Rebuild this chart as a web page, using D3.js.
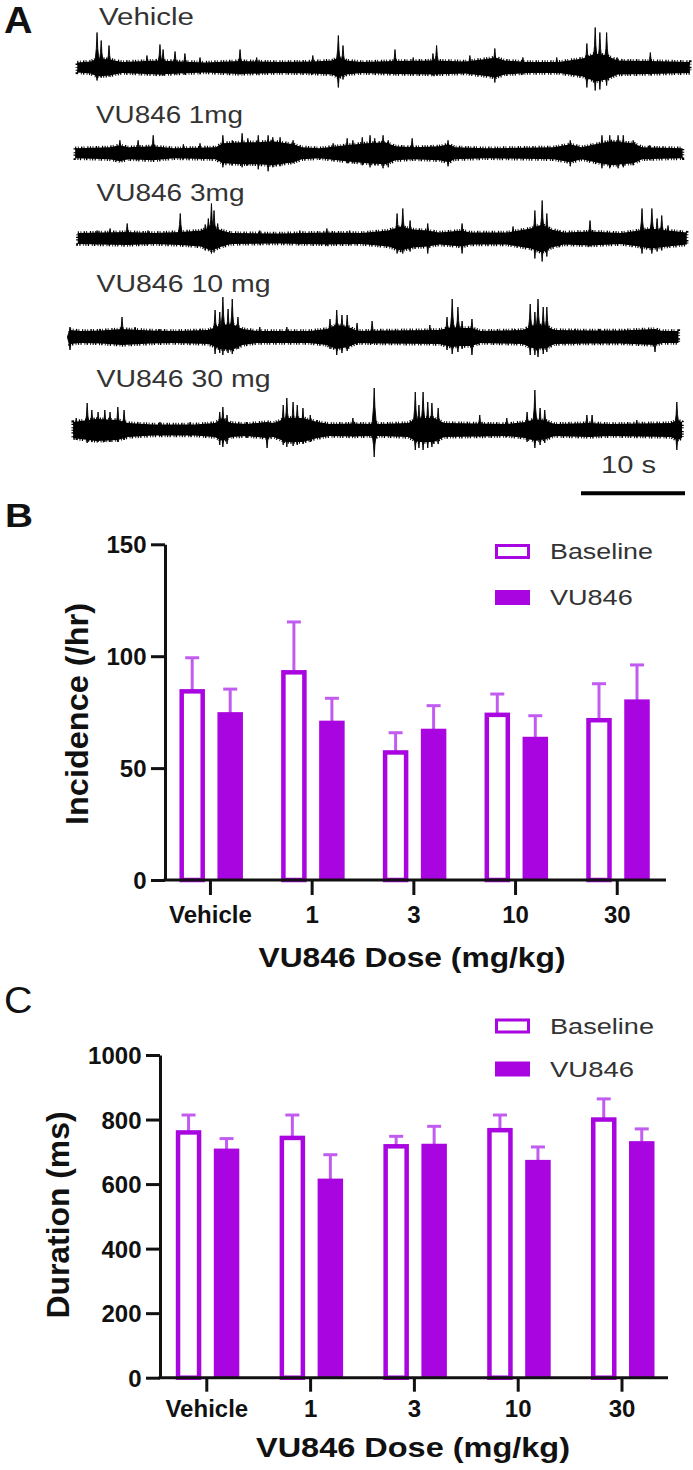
<!DOCTYPE html>
<html><head><meta charset="utf-8">
<script src="https://cdn.jsdelivr.net/npm/d3@7"></script>
<style>body{margin:0;background:#fff}svg{display:block}</style>
</head><body>
<svg id="c" width="693" height="1470"></svg>
<script>
// ---------------- DATA ----------------
const doses = ["Vehicle", "1", "3", "10", "30"];
const seriesNames = ["Baseline", "VU846"];

const incBaseline    = [85.3, 93.8, 58.0, 74.8, 72.4];
const incBaselineSem = [14.0, 21.5, 7.8, 8.3, 15.3];
const incVU          = [75.0, 71.2, 67.6, 64.0, 80.7];
const incVUSem       = [10.3, 10.0, 10.3, 9.4, 15.4];
const incTicks = [0, 50, 100, 150];

const durBaseline    = [767, 750, 724, 774, 807];
const durBaselineSem = [47, 64, 24, 40, 57];
const durVU          = [710, 617, 725, 675, 733];
const durVUSem       = [31, 74, 54, 40, 38];
const durTicks = [0, 200, 400, 600, 800, 1000];

const traceLabels = ["Vehicle", "VU846 1mg", "VU846 3mg", "VU846 10 mg", "VU846 30 mg"];
const scaleBarSeconds = 10;
const scaleBarLabel = "10 s";

// band envelope: [time (s), half-width]
const bandVehicle = [[0.7,5],[2,6],[2.6,9],[3.8,8],[5,5.5],[8.5,7],[10.5,6],[13,5],[16.3,6.5],[20,5.5],[23.3,6],[25.2,7],[25.8,10],[26.6,7],[28,5.5],[31.2,6.5],[35,7],[38,6],[40,8.5],[40.9,10],[41.8,7],[44,5.5],[47,5.5],[49.3,9],[50.5,14],[51.6,12],[52.6,7],[55.8,6.5],[59.6,5.5]];
const band1mg = [[0.5,5],[3.8,6],[4.8,8],[5.6,6],[8,7],[10,5],[14,6],[14.7,10],[16.5,11],[18.1,11],[19.5,12],[21.5,9],[22.3,6],[24,5],[26.5,8],[28.5,10],[30.3,11],[31.3,7],[33,6],[35.5,7],[36.4,9],[37,6],[40,5],[46.5,6],[48.1,9],[49.2,6],[50.5,9],[52,12],[54.2,10],[55,6],[58.9,5]];
const band3mg = [[0.75,5.5],[3,6],[5.5,6.5],[8,5.5],[10.6,6.5],[12.6,8],[13.6,12],[14.6,8],[15.5,5.5],[20,5],[24.7,6],[28,5.5],[30.6,8],[31.8,12],[33,9],[34.4,8],[35.5,6],[37.7,8],[38.5,6],[42,6],[44.3,10],[45.4,14],[46.3,9],[47.5,6],[50,7],[53,5.5],[54.7,8],[55.8,10],[57.5,8],[59.3,6]];
const band10mg = [[0,7],[1,6],[3,6.5],[5,8],[7.7,6.5],[10,6],[13.3,7],[14.5,12],[15.6,13],[16.6,8],[18,6],[23,6],[24.7,8],[25.6,12],[26.8,10],[27.6,6],[30,6.5],[35.5,7],[36.7,10],[37.6,9],[38.6,9],[39.5,6],[43.5,7],[44.7,12],[45.8,11],[46.6,7],[50,6.5],[53,6.5],[56.2,8],[57,6],[58.5,6]];
const band30mg = [[0.3,8],[1,9],[2.5,11],[4.6,10],[5.6,7],[8,5.5],[12,5.5],[13.9,7],[14.7,11],[15.5,7],[17,6],[18.9,8],[19.6,7],[20.8,12],[22.4,12],[23.8,8],[25,6],[27.2,6.5],[29,6],[29.25,9],[29.6,6],[32.5,7],[33.5,12],[35,12],[36,7],[39.4,6.5],[42,6],[43.8,8],[44.7,11],[45.8,9],[46.6,6],[49.9,7],[52,6],[54.5,6.5],[57.8,7],[58.4,10],[58.85,8]];

// spikes: [time (s), up amplitude, down amplitude]
const spikesVehicle = [[2.6,35,13],[3.0,27,10],[3.75,22,9],[7.4,12,7],[8.65,23,8],[8.95,18,8],[10.1,16,7],[11.05,14,7],[12.5,10,6],[16.35,18,7],[17.95,10,7],[23.35,12,7],[25.8,32,20],[26.25,22,12],[31.25,18,7],[33.0,10,7],[34.9,14,8],[35.25,22,8],[38.45,12,7],[40.85,19,15],[43.55,10,7],[46.8,10,6],[49.7,24,20],[50.5,40,23],[50.95,35,22],[51.6,35,18],[52.6,10,7],[55.8,15,7]];
const spikes1mg = [[4.8,13,8],[6.55,13,7],[8.0,18,7],[10.9,9,6],[12.5,10,6],[14.7,18,14],[15.6,13,12],[16.55,20,14],[17.1,15,12],[18.1,18,16],[19.05,18,18],[19.5,16,14],[20.2,16,13],[21.45,13,10],[24.05,5,6],[25.3,10,7],[26.65,15,10],[27.2,13,10],[28.1,16,12],[28.85,18,14],[29.3,15,12],[30.1,18,15],[30.6,13,14],[32.9,15,7],[36.35,13,13],[48.1,13,13],[51.15,18,15],[51.9,18,15],[52.7,18,15],[53.2,18,14],[54.15,13,12],[55.75,8,7]];
const spikes3mg = [[2.6,8,6],[3.85,10,6],[5.5,15,6],[7.5,8,6],[10.6,25,7],[13.0,14,12],[13.3,20,12],[13.6,35,15],[13.85,28,14],[14.2,15,10],[18.25,8,6],[22.1,8,6],[24.7,10,7],[26.9,8,6],[31.45,25,15],[32.0,30,15],[32.7,18,13],[34.4,15,15],[37.7,15,15],[42.6,12,7],[44.7,28,20],[45.4,38,23],[45.85,25,18],[47.1,8,8],[50.0,18,8],[55.0,30,15],[55.95,30,15],[56.45,20,13],[56.9,23,12],[57.5,13,8]];
const spikes10mg = [[0.0,10,13],[2.9,8,6],[5.0,20,8],[6.25,10,7],[8.65,8,6],[12.5,8,6],[13.95,27,17],[14.4,25,16],[14.7,40,18],[15.2,28,16],[15.6,38,17],[16.15,20,12],[18.25,10,6],[20.85,10,6],[25.0,18,12],[25.65,27,18],[26.15,22,16],[26.65,22,14],[27.6,14,8],[29.05,16,7],[34.6,12,7],[36.25,20,13],[36.75,38,17],[37.3,30,15],[37.7,16,12],[38.65,18,18],[42.8,8,7],[44.25,33,18],[44.7,25,18],[45.0,38,20],[45.5,30,17],[45.85,30,15],[48.55,8,7],[50.95,8,7],[53.35,8,7],[56.25,8,15]];
const spikes30mg = [[0.6,12,10],[1.65,27,13],[2.1,20,12],[2.7,18,12],[3.35,20,12],[3.85,18,12],[4.6,23,12],[5.2,20,10],[8.65,8,6],[11.55,8,6],[14.4,18,15],[14.7,23,17],[15.1,15,14],[17.0,8,8],[17.6,7,6],[18.95,6,18],[20.5,25,15],[20.85,32,17],[21.45,28,16],[21.85,25,15],[22.4,22,14],[23.1,15,12],[23.75,10,8],[27.2,12,7],[29.25,42,27],[33.2,38,20],[33.55,25,18],[33.95,38,20],[34.4,28,18],[34.8,27,17],[35.4,22,14],[39.4,15,7],[42.0,12,7],[43.95,18,12],[44.7,40,18],[45.2,22,15],[45.65,20,13],[49.7,15,7],[50.2,15,7],[54.5,10,7],[58.35,28,20]];

const traceBands = [bandVehicle, band1mg, band3mg, band10mg, band30mg];
const traceSpikes = [spikesVehicle, spikes1mg, spikes3mg, spikes10mg, spikes30mg];

// ---------------- DRAWING ----------------
const svg = d3.select("#c");
const FONT = "'Liberation Sans', Arial, Helvetica, sans-serif";
const PURPLE = "#a905e0";
const ERRC = "#c25cf0";
const AXC = "#111";
const TXT = "#333";

const defs = svg.append("defs");
defs.append("filter").attr("id", "soft").append("feGaussianBlur").attr("stdDeviation", 0.6);

function label(x, y, str, o) {
  const t = svg.append("text").attr("x", x).attr("y", y).text(str)
    .attr("font-family", FONT).attr("font-size", o.size)
    .attr("font-weight", o.weight || "normal").attr("fill", o.fill || TXT)
    .attr("text-anchor", o.anchor || "start");
  if (o.len) t.attr("textLength", o.len).attr("lengthAdjust", "spacingAndGlyphs");
  if (o.rotate) t.attr("transform", `rotate(${o.rotate},${x},${y})`);
  return t;
}

// Panel letters
label(4, 33.3, "A", {size: 36, weight: "bold", fill: "#111", len: 28.5});
label(5, 527, "B", {size: 34, weight: "bold", fill: "#111", len: 28});
label(4, 1013, "C", {size: 36, weight: "normal", fill: "#111", len: 28.5});

// ---------- Panel A: traces ----------
const tScale = d3.scaleLinear().domain([0, 60]).range([70, 694]);
const traceCenters = [67.5, 153.3, 238.5, 337, 430];
const labelPos = [[99, 25, 95], [96, 122.5, 147], [96.5, 200.5, 148], [96.5, 291.5, 174], [96.5, 386.7, 174]];

traceLabels.forEach((name, i) => {
  const c = traceCenters[i];
  const amp = d3.scaleLinear().domain([-50, 50]).range([c + 50, c - 50]);
  const g = svg.append("g").attr("filter", "url(#soft)");
  const area = d3.area().x(d => tScale(d[0])).y0(d => amp(-d[1])).y1(d => amp(d[1]));
  g.append("path").datum(traceBands[i]).attr("d", area).attr("fill", "#000");
  // fuzzy noise edge of the band
  g.append("path").datum(traceBands[i]).attr("d", area)
    .attr("fill", "none").attr("stroke", "#000").attr("stroke-width", 3.4)
    .attr("stroke-dasharray", "1.1 1.6 0.8 2.3 1.4 1.2 0.9 2.8 1.2 1.4");
  // spikes drawn as narrow diamonds
  g.selectAll("path.spk").data(traceSpikes[i]).join("path").attr("class", "spk")
    .attr("d", d => {
      const x = tScale(d[0]);
      return `M${x - 2.6},${c} L${x - 0.7},${amp(d[1] * 0.55)} L${x},${amp(d[1])} L${x + 0.7},${amp(d[1] * 0.55)} L${x + 2.6},${c} L${x + 0.7},${amp(-d[2] * 0.55)} L${x},${amp(-d[2])} L${x - 0.7},${amp(-d[2] * 0.55)} Z`;
    })
    .attr("fill", "#000").attr("stroke", "#000").attr("stroke-width", 0.9);
  const p = labelPos[i];
  label(p[0], p[1], name, {size: 23, len: p[2]});
});

// scale bar
const sbLen = tScale(scaleBarSeconds) - tScale(0);
svg.append("line").attr("x1", 685 - sbLen).attr("x2", 685).attr("y1", 493.3).attr("y2", 493.3)
  .attr("stroke", "#000").attr("stroke-width", 4);
label(601, 472.7, scaleBarLabel, {size: 23.5, len: 55});

// ---------- Bar panels ----------
function barPanel(cfg) {
  const y = d3.scaleLinear().domain([0, cfg.max]).range([cfg.y0, cfg.yTop]);
  const x = d3.scaleBand().domain(doses).range(cfg.xRange).padding(0);
  const cx = d => x(d) + x.bandwidth() / 2;
  const g = svg.append("g");

  const sw = 4.5;
  const bw = 25.5;
  const offs = [-31, 7];
  const vals = [cfg.base, cfg.vu];
  const sems = [cfg.baseSem, cfg.vuSem];
  doses.forEach((d, i) => {
    vals.forEach((v, s) => {
      const left = cx(d) + offs[s];
      const top = y(v[i]);
      const mid = left + bw / 2;
      const et = y(v[i] + sems[s][i]);
      g.append("line").attr("x1", mid).attr("x2", mid).attr("y1", top + 2).attr("y2", et)
        .attr("stroke", ERRC).attr("stroke-width", 3);
      g.append("line").attr("x1", mid - 7).attr("x2", mid + 7).attr("y1", et).attr("y2", et)
        .attr("stroke", ERRC).attr("stroke-width", 3);
      if (s === 0) {
        g.append("rect").attr("x", left + sw / 2).attr("y", top + sw / 2)
          .attr("width", bw - sw).attr("height", cfg.y0 - top - sw / 2)
          .attr("fill", "#fff").attr("stroke", PURPLE).attr("stroke-width", sw);
      } else {
        g.append("rect").attr("x", left).attr("y", top)
          .attr("width", bw).attr("height", cfg.y0 - top).attr("fill", PURPLE);
      }
    });
  });

  const ya = g.append("g").attr("transform", `translate(${cfg.axisX},0)`)
    .call(d3.axisLeft(y).tickValues(cfg.ticks).tickSize(14).tickSizeOuter(0).tickPadding(4.5).tickFormat(d3.format("d")));
  ya.select(".domain").attr("stroke", AXC).attr("stroke-width", 3);
  ya.selectAll(".tick line").attr("stroke", AXC).attr("stroke-width", 3);
  ya.selectAll(".tick text").attr("font-family", FONT).attr("font-size", 24).attr("font-weight", "bold")
    .attr("fill", "#111").attr("dy", "0.36em");

  const xa = g.append("g").attr("transform", `translate(0,${cfg.y0})`)
    .call(d3.axisBottom(x).tickSize(cfg.xTick).tickSizeOuter(0));
  xa.select(".domain").remove();
  xa.selectAll(".tick line").attr("stroke", AXC).attr("stroke-width", 3);
  xa.selectAll(".tick text").attr("font-family", FONT).attr("font-size", 24).attr("font-weight", "bold")
    .attr("fill", "#111").attr("y", cfg.xLabelOff).attr("dy", null);
  g.append("line").attr("x1", cfg.axisX - 1.5).attr("x2", cfg.xEnd).attr("y1", cfg.y0).attr("y2", cfg.y0)
    .attr("stroke", AXC).attr("stroke-width", 3);

  label(cfg.yTitle[0], cfg.yTitle[1], cfg.yTitleText, {size: 32, weight: "bold", fill: "#111", anchor: "middle", rotate: -90, len: cfg.yTitle[2]});
  label(cfg.xTitle[0], cfg.xTitle[1], "VU846 Dose (mg/kg)", {size: 28.5, weight: "bold", fill: "#111", anchor: "middle", len: cfg.xTitle[2]});

  seriesNames.forEach((n, s) => {
    const ly = cfg.legendY[s];
    if (s === 0) {
      svg.append("rect").attr("x", 495 + 1.5).attr("y", ly + 1.5).attr("width", 32).attr("height", 12)
        .attr("fill", "#fff").attr("stroke", PURPLE).attr("stroke-width", 3);
    } else {
      svg.append("rect").attr("x", 495).attr("y", ly).attr("width", 35).attr("height", 15).attr("fill", PURPLE);
    }
    label(550, ly + 15.3, n, {size: 21.4, len: cfg.legendLen[s]});
  });
}

barPanel({
  max: 150, y0: 880, yTop: 544.3, ticks: incTicks,
  base: incBaseline, baseSem: incBaselineSem, vu: incVU, vuSem: incVUSem,
  xRange: [159.6, 668.1], axisX: 165, xEnd: 666, xTick: 15, xLabelOff: 42.7,
  yTitleText: "Incidence (/hr)", yTitle: [88, 714, 222], xTitle: [412, 966.7, 307],
  legendY: [544, 590], legendLen: [103, 82.7]
});

barPanel({
  max: 1000, y0: 1377.7, yTop: 1055, ticks: durTicks,
  base: durBaseline, baseSem: durBaselineSem, vu: durVU, vuSem: durVUSem,
  xRange: [154.9, 673.9], axisX: 160, xEnd: 668, xTick: 14, xLabelOff: 39,
  yTitleText: "Duration (ms)", yTitle: [69, 1215, 207], xTitle: [413, 1456.7, 314],
  legendY: [1018.5, 1061.5], legendLen: [104, 84]
});
</script>
</body></html>
